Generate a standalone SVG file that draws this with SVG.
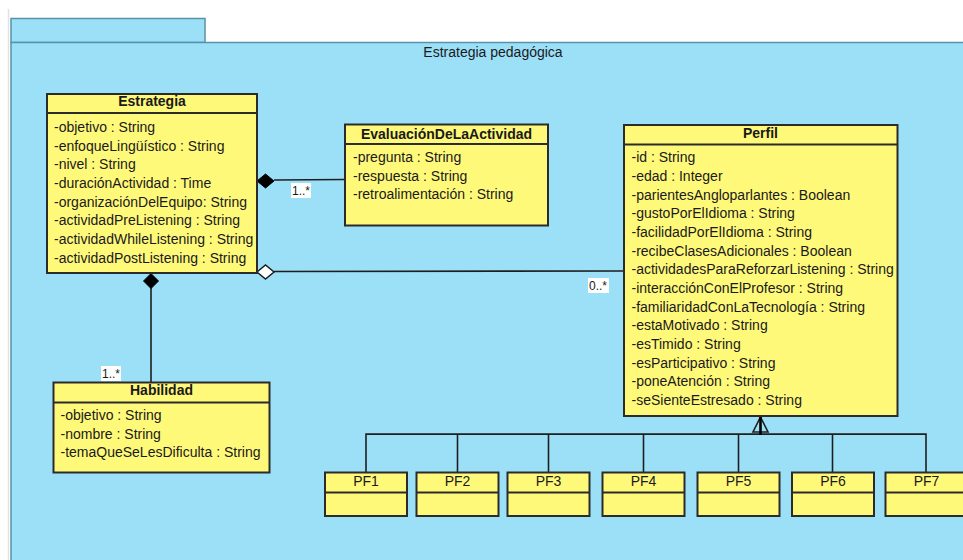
<svg xmlns="http://www.w3.org/2000/svg" width="963" height="560" viewBox="0 0 963 560">
<defs>
<style>
text{font-family:"Liberation Sans",Arial,sans-serif;font-size:14px;fill:#1a1a1a}
.h{font-weight:bold;text-anchor:middle}
.t{text-anchor:middle}
.box{fill:#fff97a;stroke:#2b2b2b;stroke-width:2}
.sep{stroke:#2b2b2b;stroke-width:2}
.ln{fill:none;stroke:#1e1e1e;stroke-width:1.6}
.lbl{font-size:12px}
.lb{fill:#fff}
</style>
</defs>
<rect x="0" y="0" width="963" height="560" fill="#fff"/>
<line x1="8.5" y1="9" x2="8.5" y2="560" stroke="#e2e2e2" stroke-width="1.5"/>
<g id="package">
<rect x="11" y="18.5" width="194" height="24" fill="#9ce0f8" stroke="#5593ab" stroke-width="1.5"/>
<rect x="11" y="42.5" width="960" height="530" fill="#9ce0f8" stroke="#5593ab" stroke-width="1.5"/>
<text x="493" y="57" class="t">Estrategia pedagógica</text>
</g>
<g id="connectors">
<line class="ln" x1="274" y1="180" x2="345" y2="179.5"/>
<polygon points="257,181 265.5,174 274,181 265.5,188" fill="#000" stroke="#000" stroke-width="1"/>
<rect class="lb" x="291" y="183" width="20" height="15"/>
<text class="lbl" x="292" y="195">1..*</text>
<line class="ln" x1="274" y1="271.5" x2="624" y2="271"/>
<polygon points="257,272 265.5,265 274,272 265.5,279" fill="#fff" stroke="#1e1e1e" stroke-width="1.5"/>
<rect class="lb" x="588" y="278" width="21" height="15"/>
<text class="lbl" x="589" y="290">0..*</text>
<line class="ln" x1="151" y1="288" x2="151" y2="382"/>
<polygon points="151,273.5 158.5,281 151,288.5 143.5,281" fill="#000" stroke="#000" stroke-width="1"/>
<rect class="lb" x="101" y="366" width="20" height="15"/>
<text class="lbl" x="102" y="378">1..*</text>
<polyline class="ln" points="366,472 366,434 926,434 926,472"/>
<line class="ln" x1="457.5" y1="434" x2="457.5" y2="472"/>
<line class="ln" x1="548.5" y1="434" x2="548.5" y2="472"/>
<line class="ln" x1="643.5" y1="434" x2="643.5" y2="472"/>
<line class="ln" x1="738.5" y1="434" x2="738.5" y2="472"/>
<line class="ln" x1="832.5" y1="434" x2="832.5" y2="472"/>
<line x1="366" y1="434.5" x2="926" y2="434.5" stroke="#1e1e1e" stroke-width="1.2"/>
<polygon points="760.5,417 768,432 753,432" fill="#9ce0f8" stroke="#1e1e1e" stroke-width="1.6"/>
<line x1="760.5" y1="416" x2="760.5" y2="435" stroke="#000" stroke-width="2.6"/>
</g>
<g id="Estrategia">
<rect class="box" x="47" y="94" width="210" height="179"/>
<line class="sep" x1="47" y1="113" x2="257" y2="113"/>
<text class="h" x="152" y="106">Estrategia</text>
<text x="54" y="132">-objetivo : String</text>
<text x="54" y="150.7">-enfoqueLingüístico : String</text>
<text x="54" y="169.3">-nivel : String</text>
<text x="54" y="188">-duraciónActividad : Time</text>
<text x="54" y="206.7">-organizaciónDelEquipo: String</text>
<text x="54" y="225.3">-actividadPreListening : String</text>
<text x="54" y="244">-actividadWhileListening : String</text>
<text x="54" y="262.7">-actividadPostListening : String</text>
</g>
<g id="EvaluacionDeLaActividad">
<rect class="box" x="345" y="124.5" width="203" height="101"/>
<line class="sep" x1="345" y1="144" x2="548" y2="144"/>
<text class="h" x="446.5" y="138.5">EvaluaciónDeLaActividad</text>
<text x="353" y="162.3">-pregunta : String</text>
<text x="353" y="180.8">-respuesta : String</text>
<text x="353" y="199.3">-retroalimentación : String</text>
</g>
<g id="Perfil">
<rect class="box" x="624" y="125" width="273.5" height="291"/>
<line class="sep" x1="624" y1="144.5" x2="897.5" y2="144.5"/>
<text class="h" x="760.5" y="138">Perfil</text>
<text x="631.5" y="162.3">-id : String</text>
<text x="631.5" y="181">-edad : Integer</text>
<text x="631.5" y="199.6">-parientesAngloparlantes : Boolean</text>
<text x="631.5" y="218.3">-gustoPorElIdioma : String</text>
<text x="631.5" y="236.9">-facilidadPorElIdioma : String</text>
<text x="631.5" y="255.6">-recibeClasesAdicionales : Boolean</text>
<text x="631.5" y="274.2">-actividadesParaReforzarListening : String</text>
<text x="631.5" y="292.9">-interacciónConElProfesor : String</text>
<text x="631.5" y="311.5">-familiaridadConLaTecnología : String</text>
<text x="631.5" y="330.2">-estaMotivado : String</text>
<text x="631.5" y="348.8">-esTimido : String</text>
<text x="631.5" y="367.5">-esParticipativo : String</text>
<text x="631.5" y="386.1">-poneAtención : String</text>
<text x="631.5" y="404.8">-seSienteEstresado : String</text>
</g>
<g id="Habilidad">
<rect class="box" x="53.5" y="382.5" width="216" height="90"/>
<line class="sep" x1="53.5" y1="402.5" x2="269.5" y2="402.5"/>
<text class="h" x="161.5" y="395">Habilidad</text>
<text x="60.5" y="420">-objetivo : String</text>
<text x="60.5" y="438.7">-nombre : String</text>
<text x="60.5" y="457.3">-temaQueSeLesDificulta : String</text>
</g>
<g id="PF1">
<rect class="box" x="325" y="472.5" width="82" height="43.5"/>
<line class="sep" x1="325" y1="492.5" x2="407" y2="492.5"/>
<text class="t" x="366" y="485.5">PF1</text>
</g>
<g id="PF2">
<rect class="box" x="416.5" y="472.5" width="82" height="43.5"/>
<line class="sep" x1="416.5" y1="492.5" x2="498.5" y2="492.5"/>
<text class="t" x="457.5" y="485.5">PF2</text>
</g>
<g id="PF3">
<rect class="box" x="507.5" y="472.5" width="82" height="43.5"/>
<line class="sep" x1="507.5" y1="492.5" x2="589.5" y2="492.5"/>
<text class="t" x="548.5" y="485.5">PF3</text>
</g>
<g id="PF4">
<rect class="box" x="602.5" y="472.5" width="82" height="43.5"/>
<line class="sep" x1="602.5" y1="492.5" x2="684.5" y2="492.5"/>
<text class="t" x="643.5" y="485.5">PF4</text>
</g>
<g id="PF5">
<rect class="box" x="697.5" y="472.5" width="82" height="43.5"/>
<line class="sep" x1="697.5" y1="492.5" x2="779.5" y2="492.5"/>
<text class="t" x="738.5" y="485.5">PF5</text>
</g>
<g id="PF6">
<rect class="box" x="792" y="472.5" width="82" height="43.5"/>
<line class="sep" x1="792" y1="492.5" x2="874" y2="492.5"/>
<text class="t" x="833" y="485.5">PF6</text>
</g>
<g id="PF7">
<rect class="box" x="885.5" y="472.5" width="82" height="43.5"/>
<line class="sep" x1="885.5" y1="492.5" x2="967.5" y2="492.5"/>
<text class="t" x="926.5" y="485.5">PF7</text>
</g>
</svg>
